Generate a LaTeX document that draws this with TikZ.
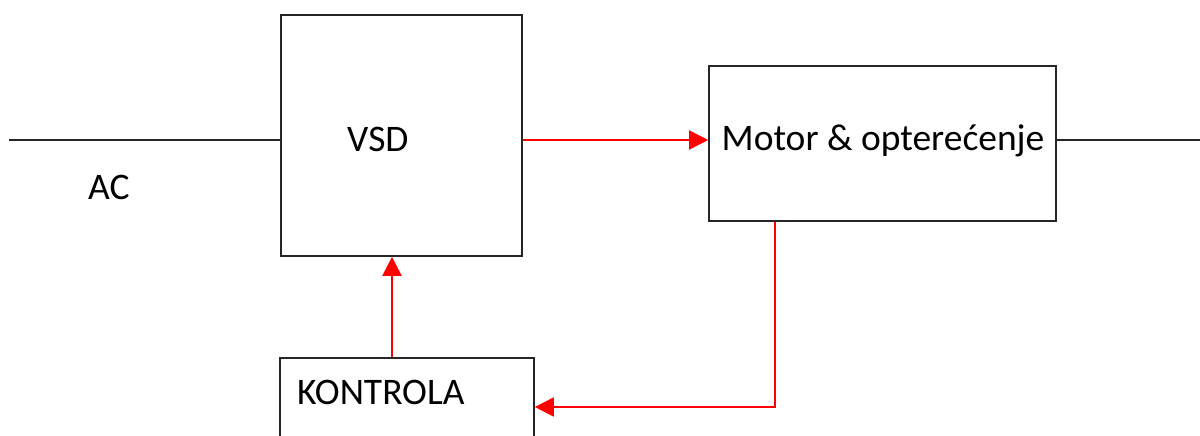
\documentclass[tikz,border=0pt]{standalone}
\usepackage{fontspec}
\setmainfont{Carlito}
\usetikzlibrary{arrows.meta, calc}
\tikzset{%
    lin/.style={line width = 1.6pt, draw=black!85},
    reda/.style={line width = 1.6pt, red, -{Triangle[length=19pt, width=19pt]}},
    blk/.style={rectangle, draw=black!85, line width=1.6pt, fill=white, inner sep=0pt},
    txt/.style={inner sep=0pt, font=\fontsize{37.5}{42}\selectfont},
}

\begin{document}
\begin{tikzpicture}[x=1pt, y=-1pt]
    \useasboundingbox (0,0) rectangle (1200,436);
    \draw node[blk, minimum width=241pt, minimum height=241pt] (vsd) at (401.5,135.5) {};
    \draw node[blk, minimum width=347pt, minimum height=155pt] (motor) at (882.5,143.5) {};
    \draw node[blk, minimum width=254pt, minimum height=160pt] (kon) at (407,438) {};
    \draw node[txt, anchor=base west] (vsdt) at (347,151) {VSD};
    \draw node[txt, anchor=base] (motort) at (883,150) {Motor \& opterećenje};
    \draw node[txt, anchor=base west] (kont) at (297,404) {KONTROLA};
    \draw node[txt, anchor=base west] (act) at (88,199) {AC};
    \coordinate (acin) at (9,140);
    \coordinate (out) at (1200,140);
    \coordinate (fb) at (775,407);
    \coordinate (ctl) at (392,358);
    \draw [lin] (acin) -- (vsd.west |- acin);
    \draw [lin] (motor.east |- out) -- (out);
    \draw [reda] (vsd.east |- acin) -- (motor.west |- acin);
    \draw [reda] (fb |- motor.south) -- (fb) -- (kon.east |- fb);
    \draw [reda] (ctl |- kon.north) -- (ctl |- vsd.south);
\end{tikzpicture}
\end{document}
